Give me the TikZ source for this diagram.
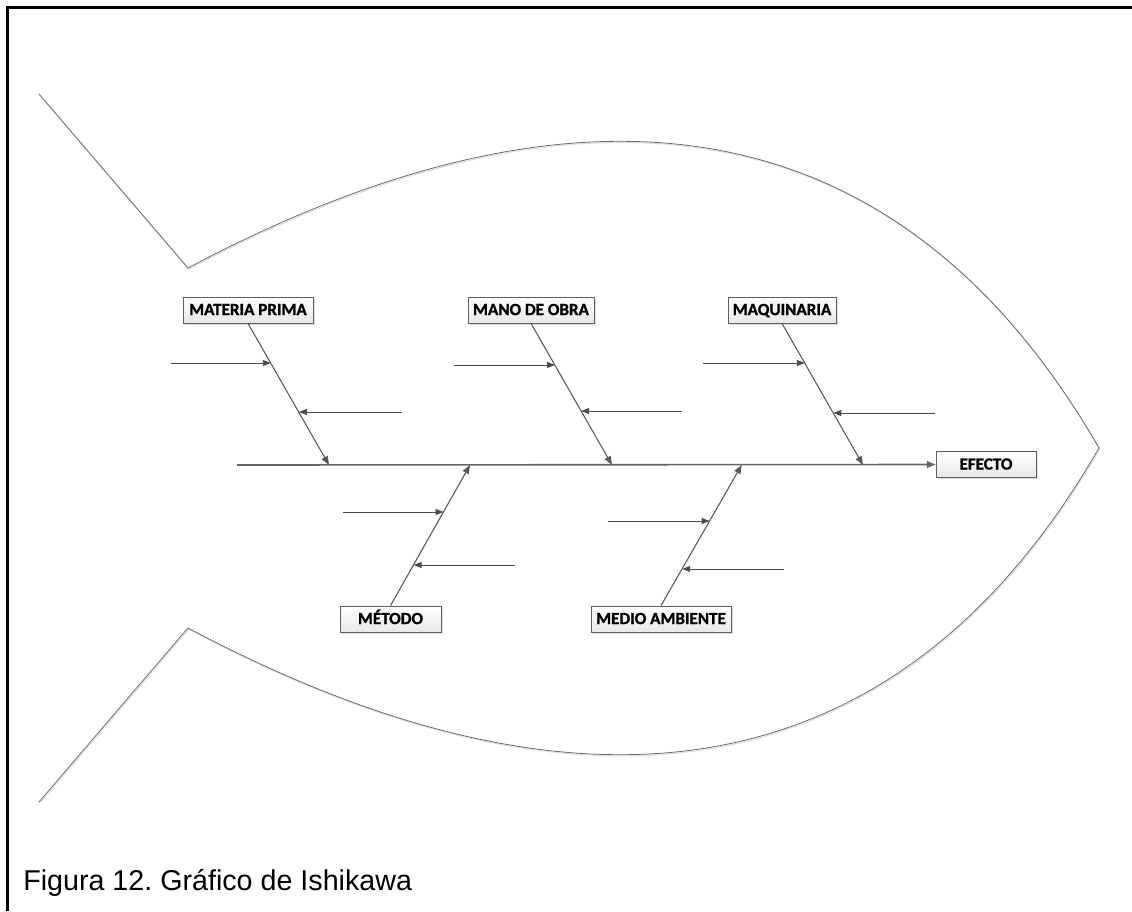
\documentclass[tikz,border=0pt]{standalone}
\usepackage{fontspec}
\newfontfamily\labfont{Carlito}[BoldFont={Carlito Bold}, BoldFeatures={FakeBold=1.2}]
\newfontfamily\capfont{Liberation Sans}
\usetikzlibrary{arrows.meta,shadows}
\frenchspacing

\tikzset{
  catbox/.style={draw=gray!75!black, line width=0.6pt, top color=white, bottom color=gray!18,
    drop shadow={shadow xshift=1.2pt, shadow yshift=-1.2pt, opacity=0.25, fill=gray},
    inner sep=0pt, minimum height=19.5pt, text height=8.8pt, text depth=1.2pt,
    font=\labfont\bfseries\fontsize{12.8}{14}\selectfont, text=black},
  fishline/.style={draw=gray!85!black, line width=0.6pt},
  fishshade/.style={draw=gray!25, line width=0.8pt},
  spine/.style={draw=gray!80!black, line width=1.2pt, -{Triangle[length=6.5pt,width=5pt]}},
  bone/.style={draw=gray!70!black, line width=0.8pt, -{Triangle[length=6.5pt,width=5pt]}},
  rib/.style={draw=black!70, line width=0.7pt, -{Triangle[length=6pt,width=4.5pt]}},
  frameline/.style={draw=black, line width=1.6pt}
}

\begin{document}
\begin{tikzpicture}[x=0.75pt,y=-0.75pt]
\useasboundingbox (0,0) rectangle (1132,911);
\fill[white] (0,0) rectangle (1132,911);

% page frame
\draw[frameline] (7.5,911) -- (7.5,7.5) -- (1132,7.5);

% fish outline: faint shade first, then the line
\begin{scope}[shift={(0.8,1.2)}]
  \draw[fishshade] (39,94) -- (188,268) .. controls (559,71) and (889,84) .. (1099,448)
        .. controls (889,812) and (559,825) .. (188,628) -- (39,802);
\end{scope}
\draw[fishline] (39,94) -- (188,268) .. controls (559,71) and (889,84) .. (1099,448)
      .. controls (889,812) and (559,825) .. (188,628) -- (39,802);

% category boxes
\node[catbox, minimum width=97.5pt]  (mp)  at (248,310)   {MATERIA PRIMA};
\node[catbox, minimum width=94.5pt]  (mo)  at (531,310)   {MANO DE OBRA};
\node[catbox, minimum width=81pt]    (maq) at (782,310)   {MAQUINARIA};
\node[catbox, minimum width=75.75pt] (met) at (390.5,619) {MÉTODO};
\node[catbox, minimum width=105pt]   (ma)  at (661,619)   {MEDIO AMBIENTE};
\node[catbox, minimum width=75pt]    (ef)  at (986,464.5) {EFECTO};

% spine
\coordinate (head) at (237,465);
\draw[spine] (head) -- (ef.west);

% junctions on the spine
\coordinate (jmp)  at (329,465);
\coordinate (jmo)  at (612,465);
\coordinate (jmaq) at (863,465);
\coordinate (jmet) at (470,465);
\coordinate (jma)  at (741.7,465);

% main bones
\draw[bone] (mp.south)  -- (jmp);
\draw[bone] (mo.south)  -- (jmo);
\draw[bone] (maq.south) -- (jmaq);
\draw[bone] (met.north) -- (jmet);
\draw[bone] (ma.north)  -- (jma);

% ribs: free ends and points on the bones
\coordinate (mpA) at (171,363);   \coordinate (mpAe) at (270.8,363);
\coordinate (mpB) at (402,412);   \coordinate (mpBe) at (298.8,412);
\coordinate (moA) at (454,365);   \coordinate (moAe) at (555,365);
\coordinate (moB) at (682,411);   \coordinate (moBe) at (581.2,411);
\coordinate (maqA) at (703,363);  \coordinate (maqAe) at (804.8,363);
\coordinate (maqB) at (935,413);  \coordinate (maqBe) at (833.3,413);
\coordinate (metA) at (343,512);  \coordinate (metAe) at (443.5,512);
\coordinate (metB) at (515,565);  \coordinate (metBe) at (413.6,565);
\coordinate (maA) at (608,521);   \coordinate (maAe) at (709.6,521);
\coordinate (maB) at (784,569);   \coordinate (maBe) at (682.2,569);

\foreach \r in {mp,mo,maq,met,ma}{
  \draw[rib] (\r A) -- (\r Ae);
  \draw[rib] (\r B) -- (\r Be);
}

% caption
\node[anchor=base west, inner sep=0pt, font=\capfont\fontsize{21.5}{24}\selectfont]
  (cap) at (23,890) {Figura 12. Gráfico de Ishikawa};
\end{tikzpicture}
\end{document}
